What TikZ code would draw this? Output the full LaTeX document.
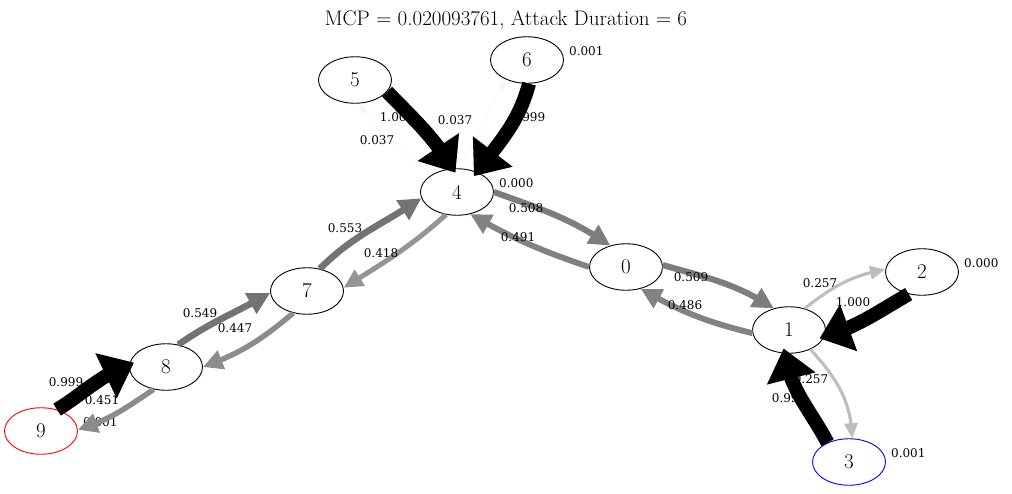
\documentclass[tikz,border=0pt]{standalone}
\usepackage{fontspec}
\newfontfamily\lblfont{DejaVu Serif}
\usetikzlibrary{arrows.meta,bending,shapes.geometric}

\tikzset{
  st/.style={ellipse,draw,line width=0.9pt,minimum width=73pt,minimum height=46.5pt,inner sep=0pt,font=\fontsize{21}{25}\selectfont},
  lbl/.style={inner sep=0pt,font=\lblfont\fontsize{12}{14}\selectfont},
  xl/.style={label={[lbl,xshift=5pt,yshift=8.5pt]0:#1}},
  flow/.style={draw=black!#1,line width={max(0.6,0.12*#1)*1pt},-{Triangle[length=9pt 2,width=5pt 2.6]}},
  heavy/.style={draw=black,line width=14pt,-{Triangle[length=31pt,width=48pt]},shorten >=-5pt}
}

\begin{document}
\begin{tikzpicture}[x=1pt,y=1pt]
  \useasboundingbox (0,0) rectangle (1012,-493);
  \node (title) at (506,-20) {\fontsize{21}{25}\selectfont MCP = 0.020093761, Attack Duration = 6};

  % states
  \node[st] (n0) at (626,-267) {0};
  \node[st] (n1) at (789,-330) {1};
  \node[st,xl=0.000] (n2) at (922,-272) {2};
  \node[st,draw=blue,xl=0.001] (n3) at (849,-462) {3};
  \node[st,xl=0.000] (n4) at (457,-192) {4};
  \node[st] (n5) at (355,-80) {5};
  \node[st,xl=0.001] (n6) at (527,-60) {6};
  \node[st] (n7) at (307,-291) {7};
  \node[st] (n8) at (166,-367) {8};
  \node[st,draw=red,xl=0.001] (n9) at (41,-431) {9};

  % weak transitions
  \draw[flow=4] (n4.146) to[out=138,in=-56] (n5.-81);
  \draw[flow=4] (n4.85) to[out=58,in=-122] (n6.-137);
  \draw[flow=51] (n4.0) to[out=-20,in=146] (n0.126);
  \draw[flow=49] (n0.180) to[out=161,in=-30] (n4.-59);
  \draw[flow=51] (n0.3) to[out=-16,in=147] (n1.125);
  \draw[flow=49] (n1.185) to[out=166,in=-30] (n0.-56);
  \draw[flow=26] (n1.54) to[out=38,in=190] (n2.176);
  \draw[flow=26] (n1.-42) to[out=-48,in=92] (n3.82);
  \draw[flow=55] (n7.60) to[out=45,in=214] (n4.190);
  \draw[flow=42] (n4.-116) to[out=222,in=32] (n7.5);
  \draw[flow=55] (n8.61) to[out=35,in=210] (n7.183);
  \draw[flow=45] (n7.-122) to[out=220,in=20] (n8.0);
  \draw[flow=45] (n8.-119) to[out=214,in=17] (n9.2);

  % transition probabilities
  \node[lbl] (l54) at (397,-117) {1.000};
  \node[lbl] (l45) at (377,-140) {0.037};
  \node[lbl] (l46) at (455,-120) {0.037};
  \node[lbl] (l64) at (528,-117) {0.999};
  \node[lbl] (l40) at (526,-208) {0.508};
  \node[lbl] (l04) at (518,-237) {0.491};
  \node[lbl] (l01) at (691,-277) {0.509};
  \node[lbl] (l10) at (685,-305) {0.486};
  \node[lbl] (l12) at (820,-283) {0.257};
  \node[lbl] (l21) at (853,-302) {1.000};
  \node[lbl] (l13) at (811,-379) {0.257};
  \node[lbl] (l31) at (789,-398) {0.999};
  \node[lbl] (l74) at (345,-228) {0.553};
  \node[lbl] (l47) at (381,-253) {0.418};
  \node[lbl] (l87) at (200,-313) {0.549};
  \node[lbl] (l78) at (235,-328) {0.447};
  \node[lbl] (l98) at (66,-382) {0.999};
  \node[lbl] (l89) at (102,-400) {0.451};

  % strong transitions
  \draw[heavy] (n5.-20) to[out=-46,in=122] (n4.100);
  \draw[heavy] (n6.-85) to[out=-105,in=53] (n4.45);
  \draw[heavy] (n2.-121) to[out=210,in=18] (n1.-11);
  \draw[heavy] (n3.138) to[out=118,in=-80] (n1.-101);
  \draw[heavy] (n9.53) to[out=32,in=202] (n8.176);
\end{tikzpicture}
\end{document}
